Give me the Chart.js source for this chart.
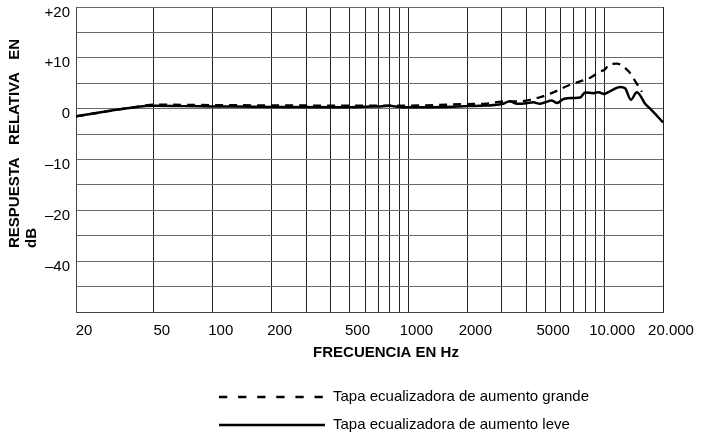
<!DOCTYPE html>
<html>
<head>
<meta charset="utf-8">
<script src="https://cdn.jsdelivr.net/npm/chart.js@4.4.0/dist/chart.umd.min.js"></script>
<style>
  html, body { margin: 0; padding: 0; background: #fff; }
</style>
</head>
<body>
<canvas id="respuesta" width="703" height="444"></canvas>
<script>
// Frequency grid lines (Hz) and the ones that get a label
const gridFreqs = [20, 50, 100, 200, 300, 400, 500, 600, 700, 800, 900, 1000,
                   2000, 3000, 4000, 5000, 6000, 7000, 8000, 9000, 10000, 20000];
const xTickValues = [20, 50, 100, 200, 500, 1000, 2000, 5000, 10000, 20000];
const xTickLabels = ['20', '50', '100', '200', '500', '1000', '2000', '5000', '10.000', '20.000'];

// dB labels (the original sheet prints "-40" where -30 would be)
const yTickValues = [20, 10, 0, -10, -20, -30];
const yTickLabels = ['+20', '+10', '0', '\u201310', '\u201320', '\u201340'];

const xTitle = 'FRECUENCIA EN Hz';
const yTitle = ['RESPUESTA   RELATIVA   EN', 'dB'];

// Tapa ecualizadora de aumento grande (dashed)
const grandeFreq = [20, 25, 30, 40, 50, 100, 200, 500, 1000, 2000, 2500, 3000, 3700, 4200,
                    4700, 5500, 6700, 8150, 8500, 9550, 10000, 10700, 11600, 13300, 14700, 15300, 15600];
const grandeDb = [-1.5, -0.9, -0.4, 0.3, 0.8, 0.7, 0.65, 0.6, 0.6, 0.9, 1.0, 1.4, 1.45, 1.75,
                  2.25, 3.2, 4.7, 5.8, 6.1, 7.3, 7.6, 8.7, 8.85, 7.4, 4.9, 3.9, 3.3];

// Tapa ecualizadora de aumento leve (solid)
const leveFreq = [20, 25, 30, 40, 50, 70, 100, 200, 500, 700, 800, 900, 1000, 1500, 2000, 2500,
                  3000, 3300, 3600, 4000, 4350, 4700, 5000, 5400, 5750, 6200, 7000, 7550, 8000,
                  8800, 9350, 10000, 10700, 12100, 12800, 13700, 14700, 15300, 16200, 17200, 20000];
const leveDb = [-1.5, -0.9, -0.4, 0.3, 0.55, 0.5, 0.45, 0.35, 0.3, 0.45, 0.55, 0.35, 0.3, 0.35, 0.5, 0.6,
                0.9, 1.45, 0.95, 1.05, 1.25, 0.95, 1.25, 1.6, 1.1, 1.9, 2.1, 2.2, 3.2,
                3.05, 3.25, 2.9, 3.4, 4.25, 4.0, 1.75, 3.25, 2.6, 0.95, 0, -2.7];

const FONT = '"Liberation Sans", Arial, sans-serif';

const toPoints = (fs, ds) => fs.map((f, i) => ({ x: f, y: ds[i] }));

// axis titles and the legend below the chart
const annotate = {
  id: 'annotate',
  afterDraw(chart) {
    const ctx = chart.ctx;
    ctx.save();
    ctx.fillStyle = '#000';
    ctx.strokeStyle = '#000';
    ctx.font = 'bold 15px ' + FONT;
    ctx.textBaseline = 'middle';

    ctx.textAlign = 'center';
    ctx.fillText(xTitle, 386, 353);

    ctx.save();
    ctx.translate(15, 248);
    ctx.rotate(-Math.PI / 2);
    ctx.textAlign = 'left';
    ctx.fillText(yTitle[0], 0, 0);
    ctx.fillText(yTitle[1], 0, 17);
    ctx.restore();

    ctx.font = '15px ' + FONT;
    ctx.textAlign = 'left';
    chart.data.datasets.forEach((ds, i) => {
      const y = 397 + i * 28;
      ctx.beginPath();
      ctx.lineWidth = 2.5;
      ctx.setLineDash(ds.legendDash);
      ctx.moveTo(219, y);
      ctx.lineTo(325, y);
      ctx.stroke();
      ctx.setLineDash([]);
      ctx.fillText(ds.label, 333, y);
    });
    ctx.restore();
  }
};

new Chart(document.getElementById('respuesta').getContext('2d'), {
  type: 'line',
  data: {
    datasets: [
      {
        label: 'Tapa ecualizadora de aumento grande',
        data: toPoints(grandeFreq, grandeDb),
        borderColor: '#000',
        borderWidth: 2.3,
        borderDash: [8, 6],
        legendDash: [8.3, 10.8],
        pointRadius: 0,
        cubicInterpolationMode: 'monotone'
      },
      {
        label: 'Tapa ecualizadora de aumento leve',
        data: toPoints(leveFreq, leveDb),
        borderColor: '#000',
        borderWidth: 2.5,
        legendDash: [],
        pointRadius: 0,
        cubicInterpolationMode: 'monotone'
      }
    ]
  },
  options: {
    responsive: false,
    animation: false,
    layout: { padding: { top: 7, right: 40, left: 0, bottom: 0 } },
    plugins: { legend: { display: false }, tooltip: { enabled: false } },
    scales: {
      x: {
        type: 'logarithmic',
        min: 20,
        max: 20000,
        afterBuildTicks: s => { s.ticks = gridFreqs.map(v => ({ value: v })); },
        afterFit: s => { s.height = 132; s.paddingLeft = 0; s.paddingRight = 0; },
        ticks: {
          autoSkip: false,
          maxRotation: 0,
          labelOffset: 8,
          padding: 10,
          color: '#000',
          font: { size: 15, family: FONT },
          callback: v => {
            const i = xTickValues.indexOf(v);
            return i >= 0 ? xTickLabels[i] : '';
          }
        },
        grid: { color: '#222', drawTicks: false },
        border: { color: '#444' }
      },
      y: {
        type: 'linear',
        min: -40,
        max: 20,
        afterFit: s => { s.width = 76; s.paddingTop = 0; s.paddingBottom = 0; },
        ticks: {
          stepSize: 5,
          labelOffset: 5.5,
          padding: 6,
          color: '#000',
          font: { size: 15, family: FONT },
          callback: v => {
            const i = yTickValues.indexOf(v);
            return i >= 0 ? yTickLabels[i] : '';
          }
        },
        grid: { color: '#6a6a6a', drawTicks: false },
        border: { color: '#444' }
      }
    }
  },
  plugins: [annotate]
});
</script>
</body>
</html>
